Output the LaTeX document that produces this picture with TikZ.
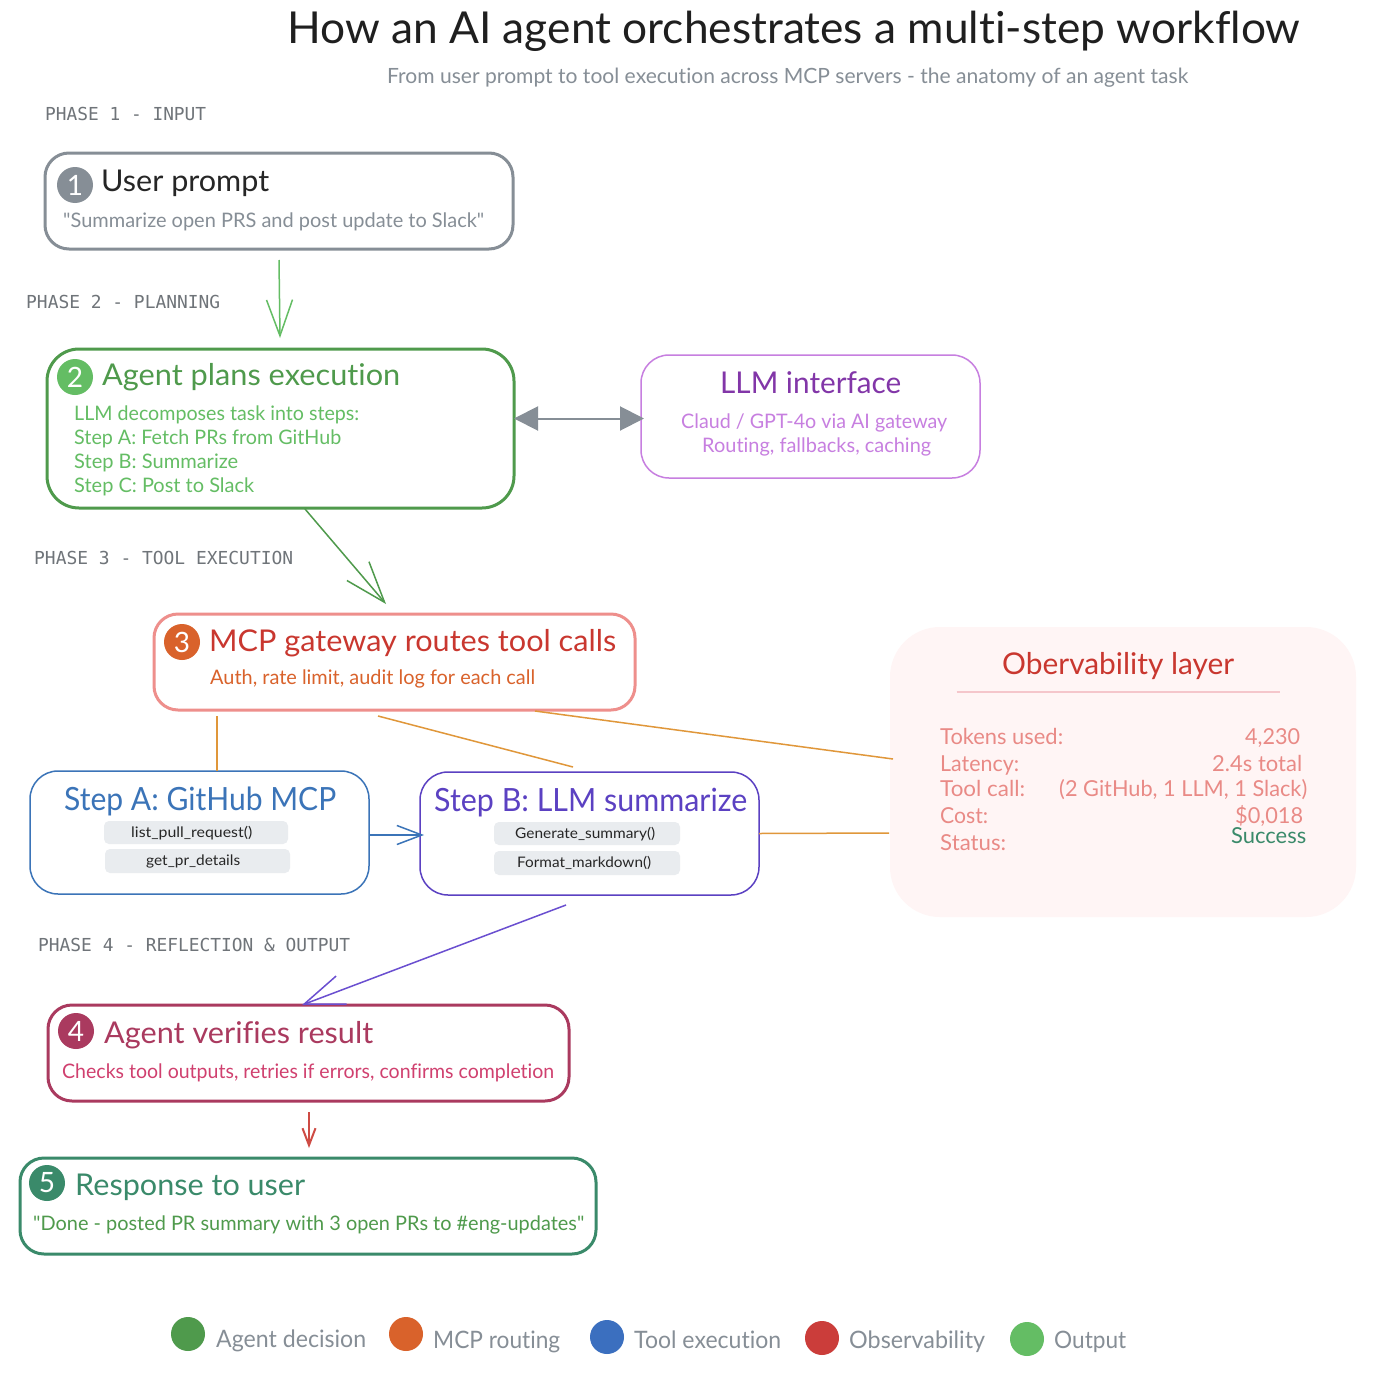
\documentclass[tikz,border=0pt]{standalone}
\usepackage{fontspec}
\usepackage{graphicx}
\setmainfont{Lato}[Ligatures=NoCommon]
\newfontfamily\qf{Lato}
\newfontfamily\phasefont{DejaVu Sans Mono}
\usetikzlibrary{arrows.meta,calc}
\definecolor{cgrey}{HTML}{868E96}
\definecolor{cgreen}{HTML}{4F9A4C}
\definecolor{clight}{HTML}{64BD64}
\definecolor{cpurple}{HTML}{C77FE0}
\definecolor{cdpurple}{HTML}{8236A8}
\definecolor{cpink}{HTML}{EE8F8C}
\definecolor{cred}{HTML}{C9372F}
\definecolor{corange}{HTML}{D9622B}
\definecolor{cline}{HTML}{E0973A}
\definecolor{cblue}{HTML}{3B74B8}
\definecolor{cdotblue}{HTML}{3B6FBF}
\definecolor{cdotred}{HTML}{CB3D3A}
\definecolor{cindigo}{HTML}{5B41C2}
\definecolor{cviolet}{HTML}{6A4FD0}
\definecolor{cmaroon}{HTML}{AA3A5F}
\definecolor{crose}{HTML}{D0406F}
\definecolor{cteal}{HTML}{3A8A6A}
\definecolor{csalmon}{HTML}{E98A86}
\definecolor{cphase}{HTML}{6F7479}
\definecolor{cpill}{HTML}{E9ECEF}
\definecolor{cobs}{HTML}{FFF5F5}
\definecolor{cdiv}{HTML}{F5C6CB}
\tikzset{
  panel/.style={draw,rectangle,rounded corners=24pt,inner sep=0pt,outer sep=0pt},
  heavy/.style={panel,line width=3pt},
  thin panel/.style={panel,line width=1.5pt,rounded corners=28pt},
  pill/.style={rectangle,fill=cpill,rounded corners=5pt,inner sep=0pt,outer sep=0pt},
  badge/.style={circle,inner sep=0pt,outer sep=0pt,minimum size=36pt,text=white,font=\fontsize{28}{28}\selectfont},
  dot/.style={circle,inner sep=0pt,outer sep=0pt,minimum size=34pt},
  flow/.style={line width=1.5pt},
  wire/.style={line width=1.5pt,draw=cline},
}
\newcommand\tl[6]{\node[anchor=base west,text=#1,inner sep=0pt,font=\fontsize{#2}{#2}\selectfont] (#3) at (#4) {\resizebox{#5pt}{\height}{#6}};}
\newcommand\ph[4]{\node[anchor=base west,text=cphase,inner sep=0pt,font=\phasefont\fontsize{17.9}{18}\selectfont] (#1) at (#2) {\resizebox{#3pt}{\height}{#4}};}
\begin{document}
\begin{tikzpicture}[x=1pt,y=-1pt]
\useasboundingbox[fill=white] (0,0) rectangle (1378,1386);
% panels
\node[panel,draw=none,fill=cobs,rounded corners=50pt,minimum width=466pt,minimum height=290pt] (obs) at (1123,772) {};
\node[heavy,draw=cgrey,minimum width=468pt,minimum height=96pt] (n1) at (279,201) {};
\node[heavy,draw=cgreen,minimum width=467pt,minimum height=159pt,rounded corners=32pt] (n2) at (280.5,428.5) {};
\node[thin panel,draw=cpurple,minimum width=339pt,minimum height=123pt] (llm) at (810.5,416.5) {};
\node[heavy,draw=cpink,minimum width=481pt,minimum height=96pt] (n3) at (394.5,662) {};
\node[thin panel,draw=cblue,minimum width=339pt,minimum height=123pt] (stepa) at (199.5,832.5) {};
\node[thin panel,draw=cindigo,minimum width=339pt,minimum height=123pt] (stepb) at (589.5,833.5) {};
\node[heavy,draw=cmaroon,minimum width=521pt,minimum height=96pt] (n4) at (308.5,1053) {};
\node[heavy,draw=cteal,minimum width=576pt,minimum height=96pt] (n5) at (308,1206) {};
% pills
\node[pill,minimum width=184pt,minimum height=23pt] (pa1) at (196,832.5) {};
\node[pill,minimum width=185pt,minimum height=24pt] (pa2) at (197.5,861) {};
\node[pill,minimum width=186pt,minimum height=23pt] (pb1) at (587,833.5) {};
\node[pill,minimum width=186pt,minimum height=24pt] (pb2) at (587,863) {};
% badges
\node[badge,fill=cgrey] (b1) at (75,185) {1};
\node[badge,fill=clight] (b2) at (75,377) {2};
\node[badge,fill=corange] (b3) at (182,642) {3};
\node[badge,fill=cmaroon] (b4) at (76,1031) {4};
\node[badge,fill=cteal] (b5) at (47,1183) {5};
% title
\tl{black!88}{44}{title}{287,44}{1013}{How an AI agent orchestrates a multi-step workflow}
\tl{cgrey}{21}{subtitle}{387,84}{801}{From user prompt to tool execution across MCP servers - the anatomy of an agent task}
% phases
\ph{ph1}{45,121}{161}{PHASE 1 - INPUT}
\ph{ph2}{26,308}{194}{PHASE 2 - PLANNING}
\ph{ph3}{34,564}{259}{PHASE 3 - TOOL EXECUTION}
\ph{ph4}{38,951}{312}{PHASE 4 - REFLECTION \& OUTPUT}
% box 1
\tl{black!85}{30}{t1}{101,191}{168}{User prompt}
\tl{cgrey}{20}{s1}{63,227}{421}{{\qf"}Summarize open PRS and post update to Slack{\qf"}}
% box 2
\tl{cgreen}{30}{t2}{102,385}{298}{Agent plans execution}
\tl{clight}{20}{s2a}{74,420}{285}{LLM decomposes task into steps:}
\tl{clight}{20}{s2b}{74,444}{267}{Step A: Fetch PRs from GitHub}
\tl{clight}{20}{s2c}{74,468}{164}{Step B: Summarize}
\tl{clight}{20}{s2d}{74,492}{180}{Step C: Post to Slack}
% llm
\tl{cdpurple}{30}{t6}{720,393}{181}{LLM interface}
\tl{cpurple}{20}{s6a}{681,428}{266}{Claud / GPT-4o via AI gateway}
\tl{cpurple}{20}{s6b}{702,452}{229}{Routing, fallbacks, caching}
% box 3
\tl{cred}{30}{t3}{209,651}{407}{MCP gateway routes tool calls}
\tl{corange}{20}{s3}{210,684}{325}{Auth, rate limit, audit log for each call}
% step A
\tl{cblue}{32}{ta}{64,810}{272}{Step A: GitHub MCP}
\tl{black!85}{14.5}{sa1}{131,837}{121}{list\_pull\_request()}
\tl{black!85}{14.5}{sa2}{146,865}{94}{get\_pr\_details}
% step B
\tl{cindigo}{32}{tb}{434,811}{313}{Step B: LLM summarize}
\tl{black!85}{14.5}{sb1}{515,838}{140}{Generate\_summary()}
\tl{black!85}{14.5}{sb2}{517,867}{134}{Format\_markdown()}
% box 4
\tl{cmaroon}{30}{t4}{104,1043}{269}{Agent verifies result}
\tl{crose}{20}{s4}{62,1078}{492}{Checks tool outputs, retries if errors, confirms completion}
% box 5
\tl{cteal}{30}{t5}{75,1195}{230}{Response to user}
\tl{cgreen}{20}{s5}{33,1230}{551}{{\qf"}Done - posted PR summary with 3 open PRs to \#eng-updates{\qf"}}
% observability
\tl{cred}{30}{t7}{1002,674}{232}{Obervability layer}
\node[inner sep=0pt,outer sep=0pt] (divl) at (956,692) {};
\node[inner sep=0pt,outer sep=0pt] (divr) at (1280,692) {};
\draw[draw=cdiv,line width=1.2pt] (divl) -- (divr);
\tl{csalmon}{22}{m1}{940,744}{123}{Tokens used:}
\tl{csalmon}{22}{v1}{1245,744}{55}{4,230}
\tl{csalmon}{22}{m2}{940,771}{79}{Latency:}
\tl{csalmon}{22}{v2}{1212,771}{90}{2.4s total}
\tl{csalmon}{22}{m3}{940,796}{85}{Tool call:}
\tl{csalmon}{22}{v3}{1059,796}{248}{(2 GitHub, 1 LLM, 1 Slack)}
\tl{csalmon}{22}{m4}{940,823}{48}{Cost:}
\tl{csalmon}{22}{v4}{1235,823}{68}{\$0,018}
\tl{csalmon}{22}{m5}{940,850}{66}{Status:}
\tl{cteal}{22}{v5}{1231,843}{75}{Success}
% connectors
\draw[flow,draw=clight,-{Straight Barb[length=36pt,width=26pt]}] ([yshift=-11pt]n1.south) -- ([xshift=-0.5pt,yshift=11pt]n2.north);
\draw[flow,draw=cgreen,-{Straight Barb[length=41pt,width=29pt]}] ([xshift=24.5pt,yshift=-1pt]n2.south) -- ([xshift=-8.5pt,yshift=10pt]n3.north);
\draw[line width=2pt,draw=cgrey,{Triangle[length=24pt,width=24pt]}-{Triangle[length=24pt,width=24pt]}] ([xshift=0pt,yshift=10pt]n2.east) -- ([xshift=3pt,yshift=-2pt]llm.west);
\draw[flow,draw=cblue,-{Straight Barb[length=25pt,width=19pt]}] ([yshift=-2.5pt]stepa.east) -- ([xshift=4pt,yshift=-1.5pt]stepb.west);
\draw[flow,draw=cviolet,-{Straight Barb[length=40pt,width=30pt]}] ([xshift=-23.5pt,yshift=-10pt]stepb.south) -- ([xshift=-6.5pt]n4.north);
\draw[line width=2pt,draw=cred!90!white,-{Straight Barb[length=17pt,width=13pt]}] ([xshift=0.5pt,yshift=-11pt]n4.south) -- ([xshift=1pt,yshift=10pt]n5.north);
\draw[wire] ([xshift=-177.5pt,yshift=-6pt]n3.south) -- ([xshift=17.5pt]stepa.north);
\draw[wire] ([xshift=-16.5pt,yshift=-6pt]n3.south) -- ([xshift=-16.5pt,yshift=5pt]stepb.north);
\draw[wire] ([xshift=140.5pt,yshift=-1pt]n3.south) -- ([xshift=3pt,yshift=13pt]obs.west);
\draw[wire] (stepb.east) -- ([xshift=-1pt,yshift=-61pt]obs.west);
% legend
\node[dot,fill=cgreen] (d1) at (188,1334) {};
\tl{cgrey}{24}{l1}{216,1347}{150}{Agent decision}
\node[dot,fill=corange] (d2) at (406,1334) {};
\tl{cgrey}{24}{l2}{433,1348}{127}{MCP routing}
\node[dot,fill=cdotblue] (d3) at (607,1337) {};
\tl{cgrey}{24}{l3}{634,1348}{147}{Tool execution}
\node[dot,fill=cdotred] (d4) at (822,1338) {};
\tl{cgrey}{24}{l4}{849,1348}{136}{Observability}
\node[dot,fill=clight] (d5) at (1027,1339) {};
\tl{cgrey}{24}{l5}{1054,1348}{72}{Output}
\end{tikzpicture}
\end{document}
